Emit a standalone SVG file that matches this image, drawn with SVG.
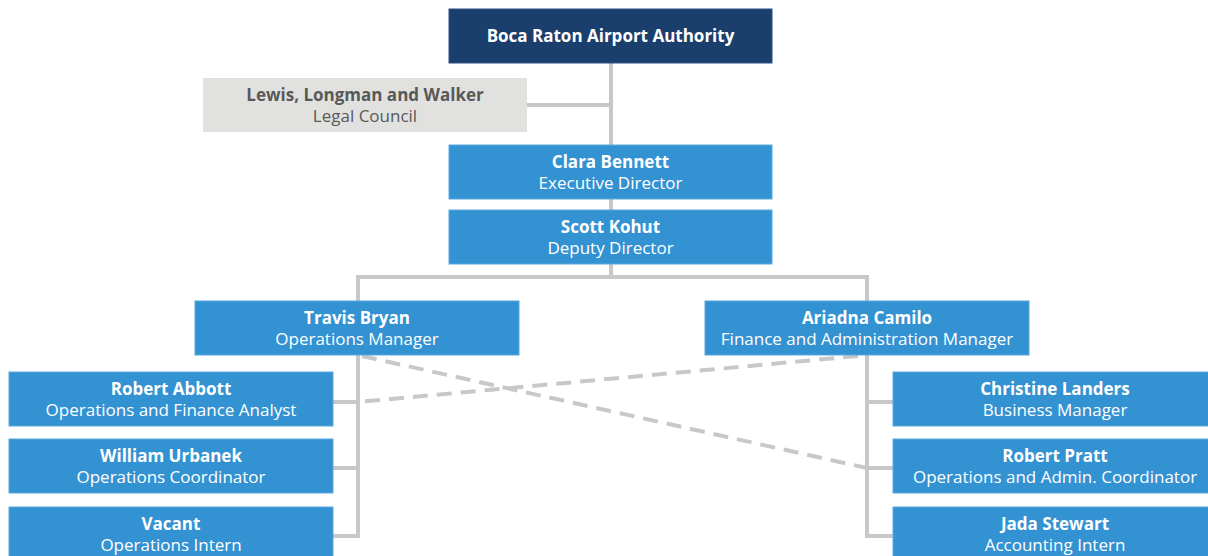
<svg xmlns="http://www.w3.org/2000/svg" width="1208" height="556" viewBox="0 0 1208 556">
<style>
.box{fill:#3392d2;stroke:#5aaae0;stroke-width:1}
.top{fill:#1a3f6d;stroke:#2a5286;stroke-width:1}
.legal{fill:#e1e2e0}
.name{font-family:"Open Sans","Noto Sans",sans-serif;font-weight:bold;font-size:17px;fill:#fff;text-anchor:middle}
.title{font-family:"Open Sans","Noto Sans",sans-serif;font-size:17px;fill:#fff;text-anchor:middle}
.legal-t{fill:#595959}
.ln{fill:none;stroke:#c8c8c8;stroke-width:4}
.dash{fill:none;stroke:#c8c8c8;stroke-width:4;stroke-dasharray:15 9}
</style>
<g id="connectors">
<line class="ln" x1="611" y1="63" x2="611" y2="277"/>
<line class="ln" x1="527" y1="105" x2="611" y2="105"/>
<polyline class="ln" points="358,301 358,277 867,277 867,301"/>
<polyline class="ln" points="358,355 358,536 333,536"/>
<line class="ln" x1="333" y1="402" x2="358" y2="402"/>
<line class="ln" x1="333" y1="468" x2="358" y2="468"/>
<polyline class="ln" points="867,355 867,536 893,536"/>
<line class="ln" x1="867" y1="402" x2="893" y2="402"/>
<line class="ln" x1="867" y1="468" x2="893" y2="468"/>
<line class="dash" x1="362" y1="356" x2="867" y2="468"/>
<line class="dash" x1="858" y1="356" x2="358" y2="402"/>
</g>
<g id="authority">
<rect class="top" x="449" y="9" width="323" height="54"/>
<text class="name" x="610.5" y="42">Boca Raton Airport Authority</text>
</g>
<g id="legal">
<rect class="legal" x="203" y="78" width="324" height="54"/>
<text class="name legal-t" x="365" y="101">Lewis, Longman and Walker</text>
<text class="title legal-t" x="365" y="122">Legal Council</text>
</g>
<g id="clara">
<rect class="box" x="449" y="145" width="323" height="54"/>
<text class="name" x="610.5" y="168">Clara Bennett</text>
<text class="title" x="610.5" y="189">Executive Director</text>
</g>
<g id="scott">
<rect class="box" x="449" y="210" width="323" height="54"/>
<text class="name" x="610.5" y="233">Scott Kohut</text>
<text class="title" x="610.5" y="254">Deputy Director</text>
</g>
<g id="travis">
<rect class="box" x="195" y="301" width="324" height="54"/>
<text class="name" x="357" y="324">Travis Bryan</text>
<text class="title" x="357" y="345">Operations Manager</text>
</g>
<g id="ariadna">
<rect class="box" x="705" y="301" width="324" height="54"/>
<text class="name" x="867" y="324">Ariadna Camilo</text>
<text class="title" x="867" y="345">Finance and Administration Manager</text>
</g>
<g id="abbott">
<rect class="box" x="9" y="372" width="324" height="54"/>
<text class="name" x="171" y="395">Robert Abbott</text>
<text class="title" x="171" y="416">Operations and Finance Analyst</text>
</g>
<g id="urbanek">
<rect class="box" x="9" y="439" width="324" height="54"/>
<text class="name" x="171" y="462">William Urbanek</text>
<text class="title" x="171" y="483">Operations Coordinator</text>
</g>
<g id="vacant">
<rect class="box" x="9" y="507" width="324" height="60"/>
<text class="name" x="171" y="530">Vacant</text>
<text class="title" x="171" y="551">Operations Intern</text>
</g>
<g id="landers">
<rect class="box" x="893" y="372" width="324" height="54"/>
<text class="name" x="1055" y="395">Christine Landers</text>
<text class="title" x="1055" y="416">Business Manager</text>
</g>
<g id="pratt">
<rect class="box" x="893" y="439" width="324" height="54"/>
<text class="name" x="1055" y="462">Robert Pratt</text>
<text class="title" x="1055" y="483">Operations and Admin. Coordinator</text>
</g>
<g id="stewart">
<rect class="box" x="893" y="507" width="324" height="60"/>
<text class="name" x="1055" y="530">Jada Stewart</text>
<text class="title" x="1055" y="551">Accounting Intern</text>
</g>
</svg>
